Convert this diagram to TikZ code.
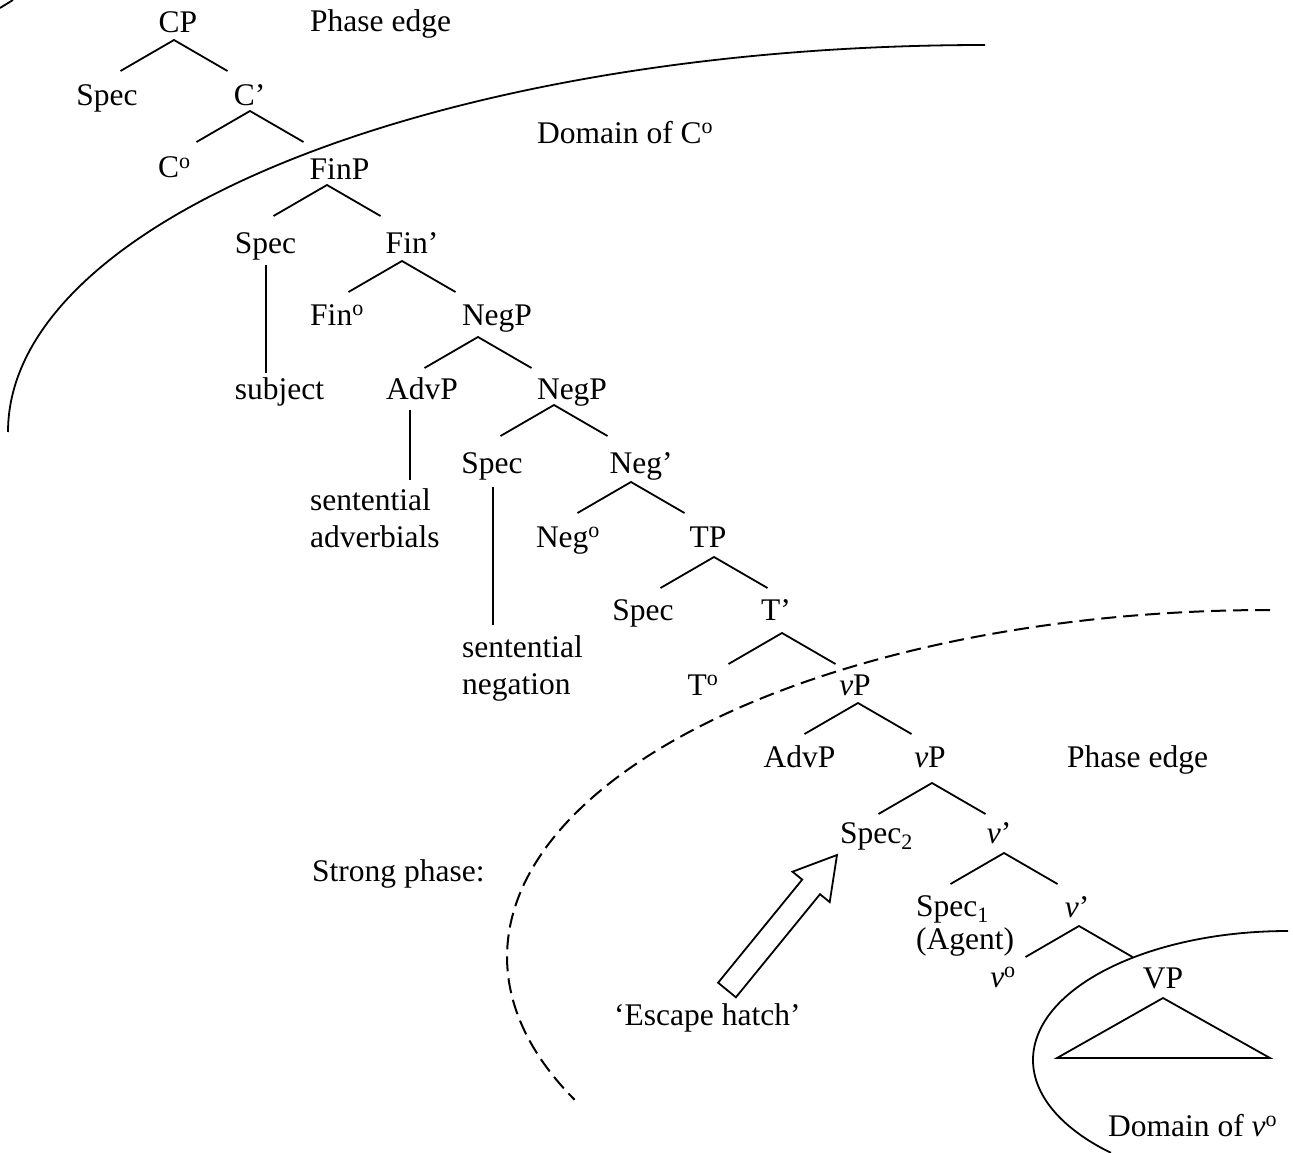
\documentclass[tikz,border=0pt]{standalone}
\usepackage{fontspec}
\setmainfont{Liberation Serif}
\usetikzlibrary{calc}
\tikzset{
  lbl/.style={anchor=base, inner sep=0pt},
  lblw/.style={anchor=base west, inner sep=0pt},
  blk/.style={anchor=north west, inner sep=0pt, align=left},
  branch/.style={line width=1.8pt},
  fork/.pic={\draw[branch] (-53.5,31) -- (0,0) -- (53.5,31);},
  phase/.style={line width=1.8pt},
  phasedash/.style={line width=2pt, dash pattern=on 15pt off 7pt},
}
\newcommand{\hd}{\textsuperscript{o}}
\begin{document}
\begin{tikzpicture}[x=1pt, y=-1pt, font=\fontsize{31.5}{37}\selectfont, line cap=butt]
\useasboundingbox (0,0) rectangle (1293,1153);

% ---- CP layer ----
\node[lbl] (CP) at (178,33) {CP};
\node[lblw] (edgeC) at (310,32) {Phase edge};
\node[lbl] (specC) at (107,106) {Spec};
\node[lbl] (Cbar) at (249.5,106) {C’};
\node[lbl] (Chead) at (174.5,178) {C\hd};
\node[lblw] (domC) at (537,143) {Domain of C\hd};

% ---- FinP / NegP ----
\node[lbl] (FinP) at (339.5,179) {FinP};
\node[lbl] (specF) at (265.5,253) {Spec};
\node[lbl] (Finbar) at (412,253) {Fin’};
\node[lbl] (Finhead) at (337,325) {Fin\hd};
\node[lbl] (NegPa) at (497,325) {NegP};
\node[lbl] (subj) at (279.5,399) {subject};
\node[lbl] (advPa) at (422,399) {AdvP};
\node[lbl] (NegPb) at (572,399) {NegP};
\node[blk] (sentAdv) at (310,488.5) {sentential\\adverbials};
\node[lbl] (specN) at (492,473) {Spec};
\node[lbl] (Negbar) at (641,473) {Neg’};
\node[lbl] (Neghead) at (568,547) {Neg\hd};

% ---- TP ----
\node[lbl] (TP) at (708,547) {TP};
\node[lbl] (specT) at (643,620) {Spec};
\node[lbl] (Tbar) at (776,620) {T’};
\node[blk] (sentNeg) at (462,635.5) {sentential\\negation};
\node[lbl] (Thead) at (703,695) {T\hd};

% ---- vP layer ----
\node[lbl] (vPa) at (855,695) {\textit{v}P};
\node[lbl] (advPb) at (799.5,767) {AdvP};
\node[lbl] (vPb) at (930,767) {\textit{v}P};
\node[lblw] (edgeV) at (1067,767) {Phase edge};
\node[lblw] (specTwo) at (840,843) {Spec\textsubscript{2}};
\node[lbl] (vbara) at (999,843) {\textit{v}’};
\node[lblw] (strong) at (312,881) {Strong phase:};
\node[blk] (specOne) at (916,895.7) {Spec\textsubscript{1}\\[-4pt](Agent)};
\node[lbl] (vbarb) at (1077,917) {\textit{v}’};
\node[lbl] (vhead) at (1003,987) {\textit{v}\hd};
\node[lbl] (VP) at (1163,988) {VP};
\node[lblw] (hatch) at (614,1025) {‘Escape hatch’};
\node[lblw] (domV) at (1108,1136) {Domain of \textit{v}\hd};

% ---- branching ----
\pic at ($(CP.base)+(-4,7)$) {fork};
\pic at ($(Cbar.base)+(0.5,5)$) {fork};
\pic at ($(FinP.base)+(-12.5,6)$) {fork};
\pic at ($(Finbar.base)+(-10,8)$) {fork};
\pic at ($(NegPa.base)+(-19,12)$) {fork};
\pic at ($(NegPb.base)+(-18,6)$) {fork};
\pic at ($(Negbar.base)+(-10,9)$) {fork};
\pic at ($(TP.base)+(6,10)$) {fork};
\pic at ($(Tbar.base)+(6,13)$) {fork};
\pic at ($(vPa.base)+(3,8)$) {fork};
\pic at ($(vPb.base)+(2,16)$) {fork};
\pic at ($(vbara.base)+(5,10)$) {fork};
\pic at ($(vbarb.base)+(2,9)$) {fork};

% non-branching links
\draw[branch] ($(specF.base)+(0.5,12)$) -- ($(specF.base |- subj.base)+(0.5,-26)$);
\draw[branch] ($(advPa.base)+(-12,11)$) -- ($(advPa.base)+(-12,81)$);
\draw[branch] ($(specN.base)+(1,14)$) -- ($(specN.base)+(1,152)$);

% VP triangle
\draw[branch, line join=miter] ($(VP.base)+(0,10)$) coordinate (vpTop)
  -- ++(-106,60) -- ++(213,0) -- cycle;

% escape hatch block arrow
\draw[branch, line join=miter] (718.1,982.7) -- (802.2,879.6) -- (792.5,871.7)
  -- (837,855) -- (829.7,902.1) -- (820.0,894.2) -- (735.9,997.3) -- cycle;

% phase boundaries
\draw[phase] (0,8) -- (13,0);
\draw[phase] (8,432) arc[start angle=180, end angle=270, x radius=977, y radius=387];
\draw[phasedash] (1270,610) arc[start angle=270, end angle=155.7, x radius=763, y radius=347];
\draw[phase] (1288,931) arc[start angle=270, end angle=134, x radius=255, y radius=129];
\end{tikzpicture}
\end{document}
